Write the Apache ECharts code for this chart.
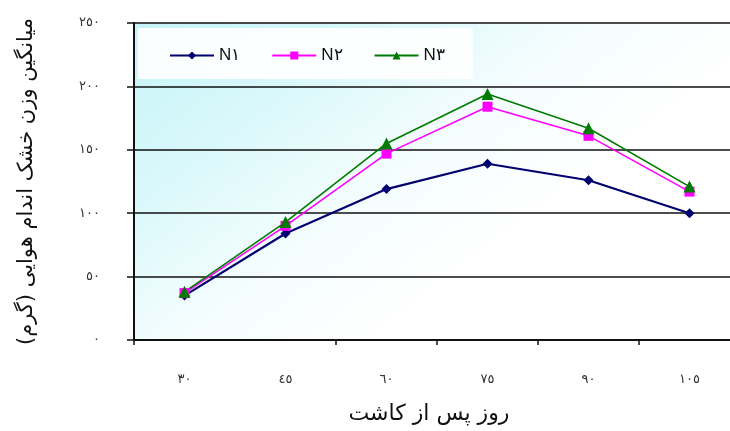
<!DOCTYPE html>
<html>
<head>
<meta charset="utf-8">
<script src="https://cdn.jsdelivr.net/npm/echarts@6/dist/echarts.min.js"></script>
<style>
html,body{margin:0;padding:0;background:#fff;}
#c{width:730px;height:431px;}
</style>
</head>
<body>
<div id="c"></div>
<script>
const categories = ['٣٠', '٤٥', '٦٠', '٧٥', '٩٠', '١٠٥'];
const seriesNames = ['N١', 'N٢', 'N٣'];
const n1 = [35, 84, 119, 139, 126, 100];
const n2 = [37, 90, 147, 184, 161, 117];
const n3 = [38, 93, 155, 194, 167, 121];
const yTickLabels = {0: '٠', 50: '٥٠', 100: '١٠٠', 150: '١٥٠', 200: '٢٠٠', 250: '٢٥٠'};
const yTitle = 'میانگین وزن خشک اندام هوایی (گرم)';
const xTitle = 'روز پس از کاشت';

const FONT = 'DejaVu Sans';
const chart = echarts.init(document.getElementById('c'), null, {renderer: 'canvas'});
chart.setOption({
  animation: false,
  backgroundColor: '#ffffff',
  textStyle: {fontFamily: FONT},
  grid: {
    left: 134, top: 23, right: -10, bottom: 91,
    outerBoundsMode: 'none',
    containLabel: false,
    show: true,
    borderWidth: 0,
    backgroundColor: {
      type: 'linear', x: 0, y: 0, x2: 0.4, y2: 1,
      colorStops: [
        {offset: 0, color: '#c6f4f8'},
        {offset: 0.35, color: '#d9f8fa'},
        {offset: 0.7, color: '#f5fdfe'},
        {offset: 1, color: '#ffffff'}
      ]
    }
  },
  legend: {
    left: 138, top: 28,
    padding: [19, 28, 15, 31],
    backgroundColor: 'rgba(255,255,255,0.9)',
    itemWidth: 44, itemHeight: 10, itemGap: 31,
    textStyle: {fontFamily: 'Liberation Sans', fontSize: 17, color: '#111'},
    data: seriesNames
  },
  xAxis: {
    type: 'category',
    data: categories,
    boundaryGap: true,
    axisLine: {lineStyle: {color: '#111', width: 2}},
    axisTick: {show: true, length: 5, lineStyle: {color: '#111', width: 1.5},
      interval: function (i) { return i !== 1; }},
    axisLabel: {margin: 33, fontSize: 13, color: '#333', fontFamily: FONT},
    splitLine: {show: false},
    name: xTitle,
    nameLocation: 'middle',
    nameGap: 63,
    nameTextStyle: {fontSize: 22, color: '#111', fontFamily: FONT, padding: [0, 16, 0, 0]}
  },
  yAxis: {
    type: 'value',
    min: 0, max: 250, interval: 50,
    axisLine: {show: true, lineStyle: {color: '#111', width: 2}},
    axisTick: {show: true, length: 7, lineStyle: {color: '#111', width: 1.5}},
    axisLabel: {margin: 34, fontSize: 13, color: '#333', fontFamily: FONT,
      padding: [0, 0, 10, 0],
      formatter: function (v) { return yTickLabels[v]; }},
    splitLine: {show: true, lineStyle: {color: '#111', width: 1.5}},
    name: yTitle,
    nameLocation: 'middle',
    nameGap: 97,
    nameTextStyle: {fontSize: 21, color: '#111', fontFamily: FONT}
  },
  series: [
    {name: seriesNames[0], type: 'line', data: n1, symbol: 'diamond', symbolSize: 10,
      lineStyle: {color: '#00006e', width: 2.2}, itemStyle: {color: '#00006e'}},
    {name: seriesNames[1], type: 'line', data: n2, symbol: 'rect', symbolSize: 10,
      lineStyle: {color: '#ff00ff', width: 1.6}, itemStyle: {color: '#ff00ff'}},
    {name: seriesNames[2], type: 'line', data: n3, symbol: 'triangle', symbolSize: 12,
      lineStyle: {color: '#007a00', width: 1.6}, itemStyle: {color: '#007a00'}}
  ]
});
</script>
</body>
</html>
